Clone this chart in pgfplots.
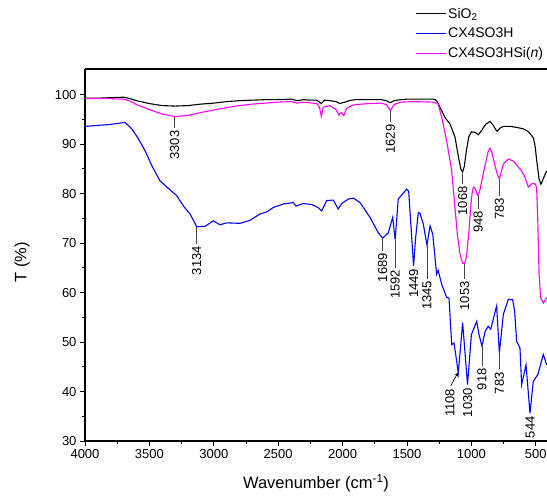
\documentclass[border=0pt]{standalone}
\usepackage{fontspec}
\setmainfont{Liberation Sans}
\usepackage{pgfplots}
\pgfplotsset{compat=1.18}
\definecolor{cblue}{RGB}{0,0,255}
\definecolor{cmag}{RGB}{255,0,255}
\definecolor{leader}{RGB}{70,70,70}

\newcommand{\lab}{\fontsize{13bp}{15bp}\selectfont}

\begin{document}
\begin{tikzpicture}[x=1bp,y=1bp]
\path[use as bounding box] (0,0) rectangle (547,497);
\begin{axis}[
  at={(85bp,56bp)}, anchor=south west,
  scale only axis, width=462bp, height=372bp,
  x dir=reverse, xmin=413, xmax=4000, ymin=30, ymax=105.2,
  axis x line*=bottom, axis y line*=left,
  axis line style={line width=1.1bp},
  xtick={500,1000,...,4000}, minor x tick num=1,
  ytick={30,40,...,100}, minor y tick num=1,
  tick align=outside, major tick length=5bp, minor tick length=3bp,
  tick style={line width=0.9bp, black},
  /pgf/number format/1000 sep={},
  /pgf/number format/assume math mode=true,
  tick label style={font=\lab},
  xlabel={Wavenumber (cm\textsuperscript{-1})},
  ylabel={T (\%)},
  label style={font=\fontsize{16.5bp}{18bp}\selectfont},
  xlabel style={at={(axis description cs:0.5,-0.113)}, anchor=center},
  ylabel style={at={(axis description cs:-0.136,0.48)}, anchor=center},
  clip mode=individual,
  legend style={draw=none, fill=none, at={(axis description cs:0.714,1.17)},
    anchor=north west, font=\fontsize{14bp}{16bp}\selectfont,
    inner sep=0pt, row sep=4.5bp, cells={anchor=west}},
  legend image code/.code={\draw[#1] (0bp,0bp) -- (30bp,0bp);},
]
\addplot[black, line width=1.1bp] coordinates {
(4000,99.3)(3900,99.3)(3800,99.4)(3700,99.5)(3650,99.2)(3600,98.8)(3500,98.2)
(3400,97.8)(3300,97.7)(3200,97.8)(3100,98.1)(3000,98.3)(2900,98.6)(2800,98.8)
(2700,98.9)(2600,99.0)(2500,99.0)(2400,99.1)(2350,98.8)(2300,99.0)(2250,98.9)
(2200,98.9)(2165,98.2)(2140,98.9)(2100,98.8)(2050,98.6)(2020,98.2)(2000,98.4)
(1980,98.5)(1950,98.8)(1900,99.0)(1800,99.0)(1700,99.0)(1660,98.8)(1629,98.4)
(1600,98.8)(1550,99.0)(1500,99.1)(1400,99.1)(1300,99.1)(1280,99.0)(1265,98.6)
(1240,97.2)(1200,95.2)(1166,94.1)(1127,91.4)(1100,87.3)(1080,84.8)(1068,84.4)
(1055,85.5)(1040,88.5)(1020,91.5)(1000,92.5)(972,92.4)(946,91.9)(920,92.8)
(890,94.0)(856,94.6)(830,93.8)(810,92.9)(799,92.6)(780,93.2)(752,93.6)
(700,93.6)(650,93.4)(597,93.1)(560,92.6)(519,91.3)(505,89.5)(493,86.7)
(475,83.0)(460,81.9)(445,82.8)(430,83.8)(415,84.6)
};
\addlegendentry{SiO\textsubscript{2}}
\addplot[cblue, line width=1.1bp] coordinates {
(4000,93.6)(3800,94.0)(3689,94.4)(3640,93.2)(3590,91.3)(3534,88.7)(3480,85.6)
(3418,82.6)(3350,81.0)(3288,79.6)(3230,77.3)(3185,75.9)(3150,74.2)(3133,73.3)
(3068,73.4)(3004,74.5)(2952,73.7)(2900,74.1)(2797,74.0)(2719,74.6)(2641,75.9)
(2589,76.3)(2538,77.2)(2460,77.9)(2383,78.2)(2362,77.5)(2305,78.0)(2238,77.8)
(2191,77.2)(2162,76.5)(2124,78.6)(2072,78.7)(2034,76.9)(2007,78.0)(1956,78.9)
(1917,79.1)(1865,78.2)(1787,75.2)(1723,72.1)(1689,71.0)(1645,72.1)(1611,75.2)
(1592,70.7)(1568,78.9)(1503,80.9)(1487,80.5)(1449,65.4)(1433,71.1)(1412,76.2)
(1399,76.0)(1373,73.8)(1345,69.6)(1321,73.5)(1300,71.8)(1270,63.7)(1258,64.5)
(1231,61.7)(1192,59.0)(1174,58.9)(1153,49.5)(1135,49.8)(1114,46.1)(1102,43.7)
(1068,53.9)(1030,41.4)(1000,51.5)(959,54.2)(941,51.5)(918,49.2)(895,52.0)
(870,53.2)(850,52.6)(804,57.3)(783,47.8)(752,55.6)(714,58.6)(680,58.6)
(664,56.2)(649,50.2)(623,48.8)(610,41.4)(576,45.4)(545,35.6)(520,42.0)
(483,43.5)(442,47.5)(415,45.4)
};
\addlegendentry{CX4SO3H}
\addplot[cmag, line width=1.1bp] coordinates {
(4000,99.2)(3800,99.2)(3700,99.1)(3650,98.7)(3600,98.0)(3500,97.0)(3400,96.1)
(3303,95.6)(3200,95.8)(3100,96.4)(3000,96.9)(2900,97.4)(2800,97.8)(2700,98.1)
(2600,98.3)(2500,98.5)(2400,98.6)(2350,98.3)(2300,98.5)(2200,98.2)(2180,97.5)
(2165,95.6)(2150,97.5)(2100,97.8)(2050,97.0)(2030,95.9)(2010,96.4)(1990,95.8)
(1970,97.2)(1930,97.8)(1900,98.0)(1800,98.2)(1700,98.3)(1660,98.0)(1629,96.8)
(1600,98.0)(1550,98.5)(1450,98.6)(1300,98.5)(1270,98.3)(1257,98.0)(1231,95.5)
(1192,90.7)(1153,84.6)(1127,77.0)(1110,72.0)(1090,68.0)(1070,66.0)(1053,65.8)
(1040,67.0)(1020,72.0)(1005,77.5)(995,80.0)(985,81.3)(970,81.0)(955,79.8)
(948,79.6)(935,80.6)(900,85.0)(870,88.5)(856,89.2)(840,88.2)(815,85.5)
(800,84.0)(783,83.0)(770,84.2)(752,86.0)(714,87.0)(675,86.6)(649,85.8)
(610,84.6)(584,83.3)(558,81.3)(532,82.0)(506,82.0)(494,81.3)(485,75.0)
(475,64.0)(463,59.0)(442,57.9)(415,59.0)
};
\addlegendentry{CX4SO3HSi(\textit{n})}

% peak annotations
\begin{scope}[every node/.style={font=\lab, rotate=90, anchor=east, inner sep=1bp}]
\draw[leader, line width=0.7bp] (axis cs:3303,95.5) -- (axis cs:3303,93.2);
\node at (axis cs:3303,93.0) {3303};
\draw[leader, line width=0.7bp] (axis cs:3134,73.3) -- (axis cs:3134,69.8);
\node at (axis cs:3134,69.6) {3134};
\draw[leader, line width=0.7bp] (axis cs:1629,96.8) -- (axis cs:1629,94.4);
\node at (axis cs:1629,94.2) {1629};
\draw[leader, line width=0.7bp] (axis cs:1068,84.4) -- (axis cs:1068,81.9);
\node at (axis cs:1068,81.7) {1068};
\draw[leader, line width=0.7bp] (axis cs:948,79.6) -- (axis cs:948,76.9);
\node at (axis cs:948,76.7) {948};
\draw[leader, line width=0.7bp] (axis cs:783,83.0) -- (axis cs:783,79.6);
\node at (axis cs:783,79.4) {783};
\draw[leader, line width=0.7bp] (axis cs:1053,65.8) -- (axis cs:1053,62.7);
\node at (axis cs:1053,62.5) {1053};
\draw[leader, line width=0.7bp] (axis cs:1689,71.0) -- (axis cs:1689,68.4);
\node at (axis cs:1689,68.2) {1689};
\draw[leader, line width=0.7bp] (axis cs:1592,70.7) -- (axis cs:1592,65.0);
\node at (axis cs:1592,64.8) {1592};
\node at (axis cs:1449,65.0) {1449};
\draw[leader, line width=0.7bp] (axis cs:1345,69.6) -- (axis cs:1345,62.8);
\node at (axis cs:1345,62.6) {1345};
\draw[black, line width=0.7bp, -stealth] (axis cs:1160,41.2) -- (axis cs:1105,43.8);
\node at (axis cs:1166,40.8) {1108};
\node at (axis cs:1030,40.9) {1030};
\draw[leader, line width=0.7bp] (axis cs:918,49.2) -- (axis cs:918,45.1);
\node at (axis cs:918,44.9) {918};
\draw[leader, line width=0.7bp] (axis cs:783,48.1) -- (axis cs:783,44.5);
\node at (axis cs:783,44.1) {783};
\node at (axis cs:544,35.2) {544};
\end{scope}
\end{axis}
\draw[line width=1.2bp] (85,428) -- (547,428);
\end{tikzpicture}
\end{document}
